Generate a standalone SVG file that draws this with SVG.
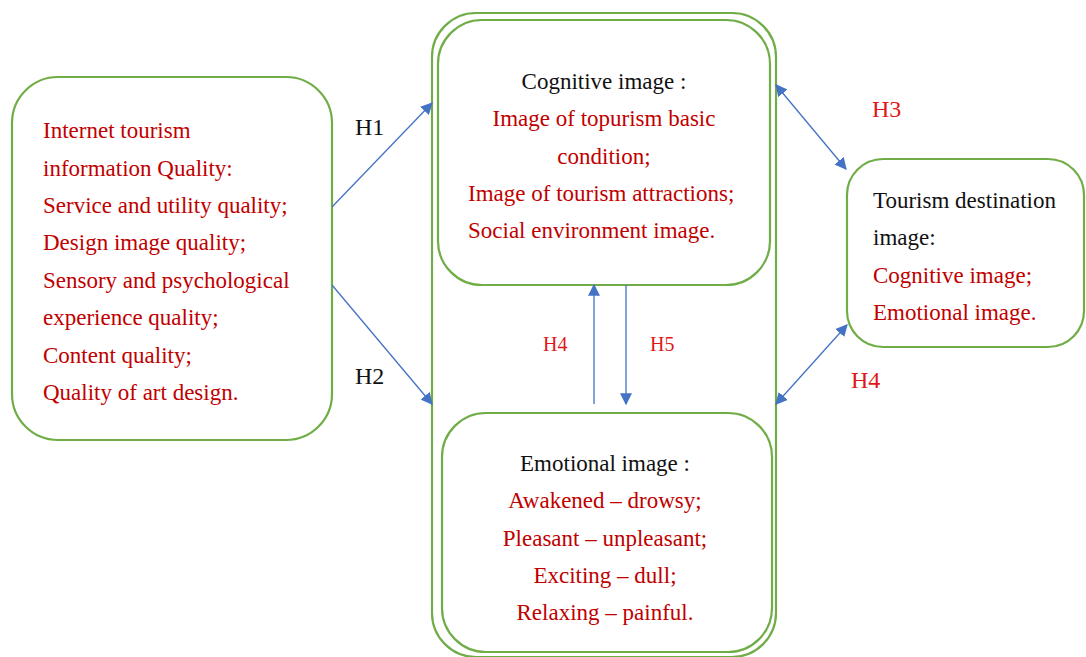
<svg xmlns="http://www.w3.org/2000/svg" width="1086" height="657" viewBox="0 0 1086 657">
  <style>
    .box { fill: #ffffff; stroke: #70AD47; stroke-width: 2.2; }
    .t { font-family: "Liberation Serif", "Times New Roman", serif; font-size: 23px; }
    .blk { fill: #111111; }
    .red { fill: #C00000; }
    .hl { fill: #E01818; }
    .big { font-size: 24px; }
    .mid { font-size: 20px; }
    .c { text-anchor: middle; }
    .link { stroke: #4472C4; stroke-width: 1.3; fill: none; }
  </style>
  <defs>
    <marker id="ah" viewBox="0 0 10 10" refX="9" refY="5" markerWidth="12" markerHeight="12" markerUnits="userSpaceOnUse" orient="auto-start-reverse">
      <path d="M0,0 L10,5 L0,10 z" fill="#4472C4"/>
    </marker>
  </defs>
  <rect width="1086" height="657" fill="#ffffff"/>

  <!-- outer container around cognitive and emotional images -->
  <g id="image-group">
    <rect class="box" x="432" y="13" width="344" height="644" rx="44" ry="44"/>
  </g>

  <!-- left: information quality -->
  <g id="info-quality">
    <rect class="box" x="12" y="77" width="320" height="363" rx="46" ry="46"/>
    <text class="t red" x="43" y="138">Internet tourism</text>
    <text class="t red" x="43" y="176">information Quality<tspan>:</tspan></text>
    <text class="t red" x="43" y="213">Service and utility quality;</text>
    <text class="t red" x="43" y="250">Design image quality;</text>
    <text class="t red" x="43" y="288">Sensory and psychological</text>
    <text class="t red" x="43" y="325">experience quality;</text>
    <text class="t red" x="43" y="363">Content quality;</text>
    <text class="t red" x="43" y="400">Quality of art design.</text>
  </g>

  <!-- cognitive image -->
  <g id="cognitive">
    <rect class="box" x="438" y="20" width="332" height="265" rx="44" ry="44"/>
    <text class="t blk c" x="604" y="89">Cognitive image :</text>
    <text class="t red c" x="604" y="126">Image of topurism basic</text>
    <text class="t red c" x="604" y="164">condition;</text>
    <text class="t red" x="468" y="201">Image of tourism attractions;</text>
    <text class="t red" x="468" y="238">Social environment image.</text>
  </g>

  <!-- emotional image -->
  <g id="emotional">
    <rect class="box" x="442" y="413" width="330" height="239" rx="44" ry="44"/>
    <text class="t blk c" x="605" y="471">Emotional image :</text>
    <text class="t red c" x="605" y="508">Awakened – drowsy;</text>
    <text class="t red c" x="605" y="546">Pleasant – unpleasant;</text>
    <text class="t red c" x="605" y="583">Exciting – dull;</text>
    <text class="t red c" x="605" y="620">Relaxing – painful.</text>
  </g>

  <!-- right: destination image -->
  <g id="destination">
    <rect class="box" x="847" y="159" width="237" height="188" rx="36" ry="36"/>
    <text class="t blk" x="873" y="208">Tourism destination</text>
    <text class="t blk" x="873" y="245">image:</text>
    <text class="t red" x="873" y="283">Cognitive image;</text>
    <text class="t red" x="873" y="320">Emotional image.</text>
  </g>

  <!-- connectors -->
  <g id="connectors">
    <line class="link" x1="332" y1="207" x2="432" y2="103" marker-end="url(#ah)"/>
    <line class="link" x1="332" y1="285" x2="432" y2="404" marker-end="url(#ah)"/>
    <line class="link" x1="776" y1="85" x2="846" y2="169" marker-start="url(#ah)" marker-end="url(#ah)"/>
    <line class="link" x1="847" y1="325" x2="776" y2="404" marker-start="url(#ah)" marker-end="url(#ah)"/>
    <line class="link" x1="594" y1="404" x2="594" y2="285" marker-end="url(#ah)"/>
    <line class="link" x1="626" y1="285" x2="626" y2="404" marker-end="url(#ah)"/>
  </g>

  <!-- hypothesis labels -->
  <g id="labels">
    <text class="t blk big" x="355" y="135">H1</text>
    <text class="t blk big" x="355" y="384">H2</text>
    <text class="t hl big" x="872" y="117">H3</text>
    <text class="t hl big" x="851" y="388">H4</text>
    <text class="t hl mid" x="543" y="351">H4</text>
    <text class="t hl mid" x="650" y="351">H5</text>
  </g>
</svg>
